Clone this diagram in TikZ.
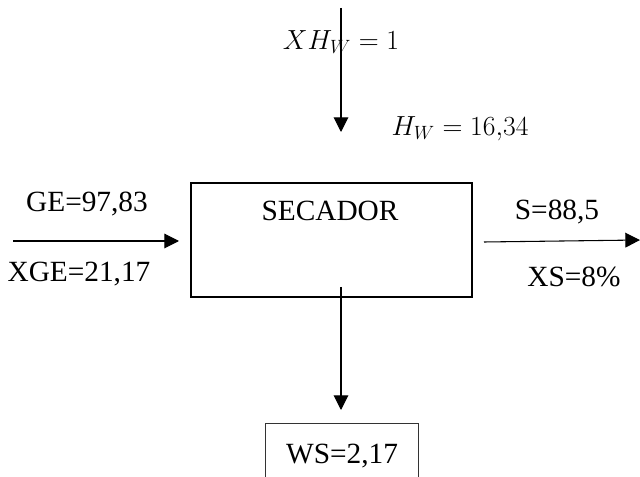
\documentclass[tikz,border=0pt]{standalone}
\usepackage{fontspec}
\setmainfont{Liberation Serif}
\usetikzlibrary{arrows.meta}
\tikzset{
  flow/.style={line width=0.8pt,-{Triangle[width=11pt,length=11pt]}},
  lbl/.style={inner sep=0pt,font=\fontsize{22}{25}\selectfont},
  mlbl/.style={inner sep=0pt,font=\fontsize{21}{25}\selectfont},
  unit/.style={draw,line width=1.1pt,inner sep=0pt},
  outbox/.style={draw,line width=0.6pt,draw=black!80,inner sep=0pt}
}
\begin{document}
\begin{tikzpicture}[x=0.75pt,y=-0.75pt]
\useasboundingbox (0,0) rectangle (640,477);
% process box
\node[unit,minimum width=210.75pt,minimum height=85.5pt] (secador) at (331.5,240) {};
\node[lbl] (seclabel) at (330,211) {SECADOR};
% output box (cut by page bottom)
\node[outbox,minimum width=114.75pt,minimum height=48pt] (ws) at (341.5,455) {};
\node[lbl] (wslabel) at (342,456) {WS=2,17};
% top stream
\coordinate (tin) at (341,8);
\coordinate (tout) at (341,132);
\draw[flow] (tin) -- (tout);
\node[mlbl] (xhw) at (341,42) {$XH_W=1$};
\node[mlbl] (hw) at (460,129) {$H_W=16{,}34$};
% left stream
\coordinate (lin) at (13,241);
\coordinate (lout) at (179,241);
\draw[flow] (lin) -- (lout);
\node[lbl] (ge) at (87,204) {GE=97,83};
\node[lbl] (xge) at (79,274) {XGE=21,17};
% right stream
\coordinate (rin) at (484,242);
\coordinate (rout) at (640,240);
\draw[flow] (rin) -- (rout);
\node[lbl] (s) at (557,212) {S=88,5};
\node[lbl] (xs) at (574,277) {XS=8\%};
% bottom stream
\coordinate (bin) at (341,287);
\coordinate (bout) at (341,410);
\draw[flow] (bin) -- (bout);
\end{tikzpicture}
\end{document}
